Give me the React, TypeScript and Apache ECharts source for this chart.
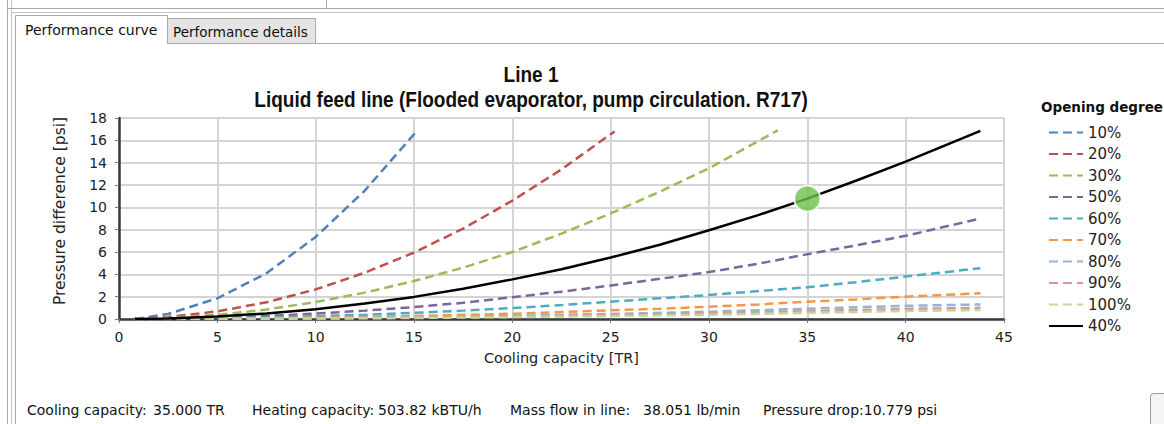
import React, { useEffect, useRef } from "react";
import * as echarts from "echarts";

// ---- data ----
const seriesNames = ["10%", "20%", "30%", "50%", "60%", "70%", "80%", "90%", "100%", "40%"];
const seriesColors = ["#4f81bd", "#c0504d", "#9bbb59", "#8064a2", "#4bacc6", "#f79646", "#95b3d7", "#d99694", "#c3d69b", "#000000"];

const curve10 = [[0.8, 0], [2.5, 0.45], [5, 1.85], [7.5, 4.1], [10, 7.35], [12.5, 11.5], [15.05, 16.65]];
const curve20 = [[0.8, 0], [2.5, 0.18], [5, 0.68], [7.5, 1.5], [10, 2.65], [12.5, 4.15], [15, 5.95], [17.5, 8.1], [20, 10.6], [22.5, 13.4], [25.2, 16.8]];
const curve30 = [[0.8, 0], [2.5, 0.1], [5, 0.38], [7.5, 0.85], [10, 1.52], [12.5, 2.36], [15, 3.4], [17.5, 4.6], [20, 6.0], [22.5, 7.65], [25, 9.45], [27.5, 11.4], [30, 13.5], [33.5, 16.9]];
const curve50 = [[0.8, 0], [2.5, 0.03], [5, 0.12], [7.5, 0.27], [10, 0.48], [12.5, 0.75], [15, 1.07], [17.5, 1.45], [20, 1.95], [22.5, 2.45], [25, 3.0], [27.5, 3.6], [30, 4.2], [32.5, 4.95], [35, 5.8], [37.5, 6.6], [40, 7.45], [43.8, 9.0]];
const curve60 = [[0.8, 0], [5, 0.06], [7.5, 0.14], [10, 0.25], [12.5, 0.38], [15, 0.55], [17.5, 0.75], [20, 0.98], [22.5, 1.25], [25, 1.55], [27.5, 1.85], [30, 2.15], [32.5, 2.5], [35, 2.85], [37.5, 3.3], [40, 3.8], [43.8, 4.55]];
const curve70 = [[0.8, 0], [5, 0.03], [10, 0.12], [15, 0.27], [20, 0.47], [25, 0.78], [27.5, 0.92], [30, 1.1], [32.5, 1.3], [35, 1.55], [37.5, 1.75], [40, 2.0], [43.8, 2.3]];
const curve80 = [[0.8, 0], [5, 0.02], [10, 0.07], [15, 0.15], [20, 0.28], [25, 0.45], [30, 0.65], [35, 0.92], [40, 1.18], [43.8, 1.3]];
const curve90 = [[0.8, 0], [5, 0.015], [10, 0.05], [15, 0.12], [20, 0.22], [25, 0.35], [30, 0.5], [35, 0.7], [40, 0.9], [43.8, 1.0]];
const curve100 = [[0.8, 0], [5, 0.01], [10, 0.04], [15, 0.09], [20, 0.17], [25, 0.27], [30, 0.38], [35, 0.55], [40, 0.72], [43.8, 0.8]];
const curve40 = [[0.8, 0], [2.5, 0.05], [5, 0.22], [7.5, 0.5], [10, 0.88], [12.5, 1.38], [15, 1.98], [17.5, 2.7], [20, 3.55], [22.5, 4.45], [25, 5.5], [27.5, 6.65], [30, 7.95], [32.5, 9.3], [35, 10.78], [37.5, 12.4], [40, 14.1], [43.8, 16.85]];
const curves = [curve10, curve20, curve30, curve50, curve60, curve70, curve80, curve90, curve100, curve40];

const operatingPoint = [35, 10.779];

const titleLine1 = "Line 1";
const titleLine2 = "Liquid feed line (Flooded evaporator, pump circulation. R717)";
const xAxisName = "Cooling capacity [TR]";
const yAxisName = "Pressure difference [psi]";
const legendTitle = "Opening degree";
const tabLabels = ["Performance curve", "Performance details"];
const statusLabels = ["Cooling capacity:", "Heating capacity:", "Mass flow in line:", "Pressure drop:10.779 psi"];
const statusValues = ["35.000 TR", "503.82 kBTU/h", "38.051 lb/min"];

const UI_FONT = "DejaVu Sans";
const CHROME = "#a9a9a9";

export default function App() {
  const ref = useRef<HTMLDivElement>(null);

  useEffect(() => {
    if (!ref.current) return;
    const chart = echarts.init(ref.current, null, { renderer: "svg" });

    const lineSeries = curves.map((c, i) => ({
      type: "line",
      name: seriesNames[i],
      data: c,
      showSymbol: false,
      symbol: "none",
      smooth: false,
      z: i === 9 ? 4 : 3,
      lineStyle: {
        color: seriesColors[i],
        width: 2.5,
        type: i === 9 ? "solid" : [9, 5],
      },
      itemStyle: { color: seriesColors[i] },
    }));

    const chromeLine = (x1: number, y1: number, x2: number, y2: number, color = CHROME) => ({
      type: "line",
      shape: { x1, y1, x2, y2 },
      style: { stroke: color, lineWidth: 1 },
      silent: true,
    });

    const statusText = (x: number, text: string) => ({
      type: "text",
      x,
      y: 410,
      style: { text, font: `14px '${UI_FONT}'`, fill: "#111", verticalAlign: "middle" },
    });

    const titleText = (y: number, text: string) => ({
      type: "text",
      x: 531,
      y,
      scaleX: 0.865,
      style: {
        text,
        font: "bold 22px 'Liberation Sans'",
        fill: "#111",
        align: "center",
        verticalAlign: "middle",
      },
    });

    const option: any = {
      animation: false,
      backgroundColor: "#ffffff",
      grid: { left: 119, right: 160, top: 118, bottom: 105, containLabel: false },
      xAxis: {
        type: "value",
        min: 0,
        max: 45,
        interval: 5,
        name: xAxisName,
        nameLocation: "middle",
        nameGap: 31,
        nameTextStyle: { fontFamily: UI_FONT, fontSize: 14.5, color: "#222" },
        axisLine: { show: true, lineStyle: { color: "#3a3a3a", width: 2.5 } },
        axisTick: { show: true, length: 4, lineStyle: { color: "#777" } },
        axisLabel: { fontFamily: UI_FONT, fontSize: 14, color: "#222", margin: 11 },
        splitLine: { show: true, lineStyle: { color: "#d4d4d4", width: 2 } },
      },
      yAxis: {
        type: "value",
        min: 0,
        max: 18,
        interval: 2,
        axisLine: { show: true, lineStyle: { color: "#3a3a3a", width: 2.5 } },
        axisTick: { show: true, length: 4, lineStyle: { color: "#777" } },
        axisLabel: { fontFamily: UI_FONT, fontSize: 14, color: "#222", margin: 12 },
        splitLine: { show: true, lineStyle: { color: "#d4d4d4", width: 2 } },
      },
      legend: {
        orient: "vertical",
        left: 1043,
        top: 120,
        itemWidth: 34,
        itemHeight: 16,
        itemGap: 6.5,
        data: seriesNames,
        itemStyle: { opacity: 0 },
        textStyle: { fontFamily: UI_FONT, fontSize: 15, color: "#222", padding: [0, 0, 0, 0] },
        selectedMode: false,
      },
      series: [
        ...lineSeries,
        {
          type: "scatter",
          name: "Operating point",
          data: [operatingPoint],
          symbolSize: 26,
          z: 10,
          itemStyle: { color: "#6cc04a", borderColor: "#ffffff", borderWidth: 2 },
        },
      ],
      graphic: [
        // window chrome
        chromeLine(7.5, 0, 7.5, 424),
        chromeLine(11.5, 0, 11.5, 424, "#c4c4c4"),
        chromeLine(7, 8.5, 1164, 8.5),
        chromeLine(11, 12.5, 1164, 12.5, "#c4c4c4"),
        chromeLine(326.5, 0, 326.5, 8),
        // active tab + panel border
        {
          type: "polyline",
          shape: { points: [[15.5, 424], [15.5, 15.5], [167.5, 15.5], [167.5, 43.5]] },
          style: { stroke: CHROME, fill: null, lineWidth: 1 },
          silent: true,
        },
        // inactive tab
        {
          type: "rect",
          shape: { x: 167.5, y: 18.5, width: 148, height: 25 },
          style: { fill: "#e4e4e4", stroke: CHROME, lineWidth: 1 },
          silent: true,
        },
        chromeLine(315, 43.5, 1164, 43.5),
        {
          type: "text",
          x: 25,
          y: 30,
          style: { text: tabLabels[0], font: `14px '${UI_FONT}'`, fill: "#111", verticalAlign: "middle" },
        },
        {
          type: "text",
          x: 173,
          y: 32,
          style: { text: tabLabels[1], font: `13.5px '${UI_FONT}'`, fill: "#111", verticalAlign: "middle" },
        },
        // chart titles
        titleText(74, titleLine1),
        titleText(99, titleLine2),
        // y axis name
        {
          type: "text",
          x: 60,
          y: 211,
          rotation: Math.PI / 2,
          style: {
            text: yAxisName,
            font: `15.5px '${UI_FONT}'`,
            fill: "#222",
            align: "center",
            verticalAlign: "middle",
          },
        },
        // legend title
        {
          type: "text",
          x: 1041,
          y: 107,
          style: { text: legendTitle, font: `bold 13.5px '${UI_FONT}'`, fill: "#111", verticalAlign: "middle" },
        },
        // status line
        statusText(27, statusLabels[0]),
        statusText(153, statusValues[0]),
        statusText(252, statusLabels[1]),
        statusText(378, statusValues[1]),
        statusText(510, statusLabels[2]),
        statusText(643, statusValues[2]),
        statusText(763, statusLabels[3]),
        // small button at bottom right
        {
          type: "rect",
          shape: { x: 1150.5, y: 393.5, width: 30, height: 40, r: 3 },
          style: { fill: "#f4f4f4", stroke: "#9a9a9a", lineWidth: 1 },
          silent: true,
        },
      ],
    };

    chart.setOption(option);
    return () => chart.dispose();
  }, []);

  return (
    <div
      ref={ref}
      style={{ position: "absolute", left: 0, top: 0, width: 1164, height: 424 }}
    />
  );
}
